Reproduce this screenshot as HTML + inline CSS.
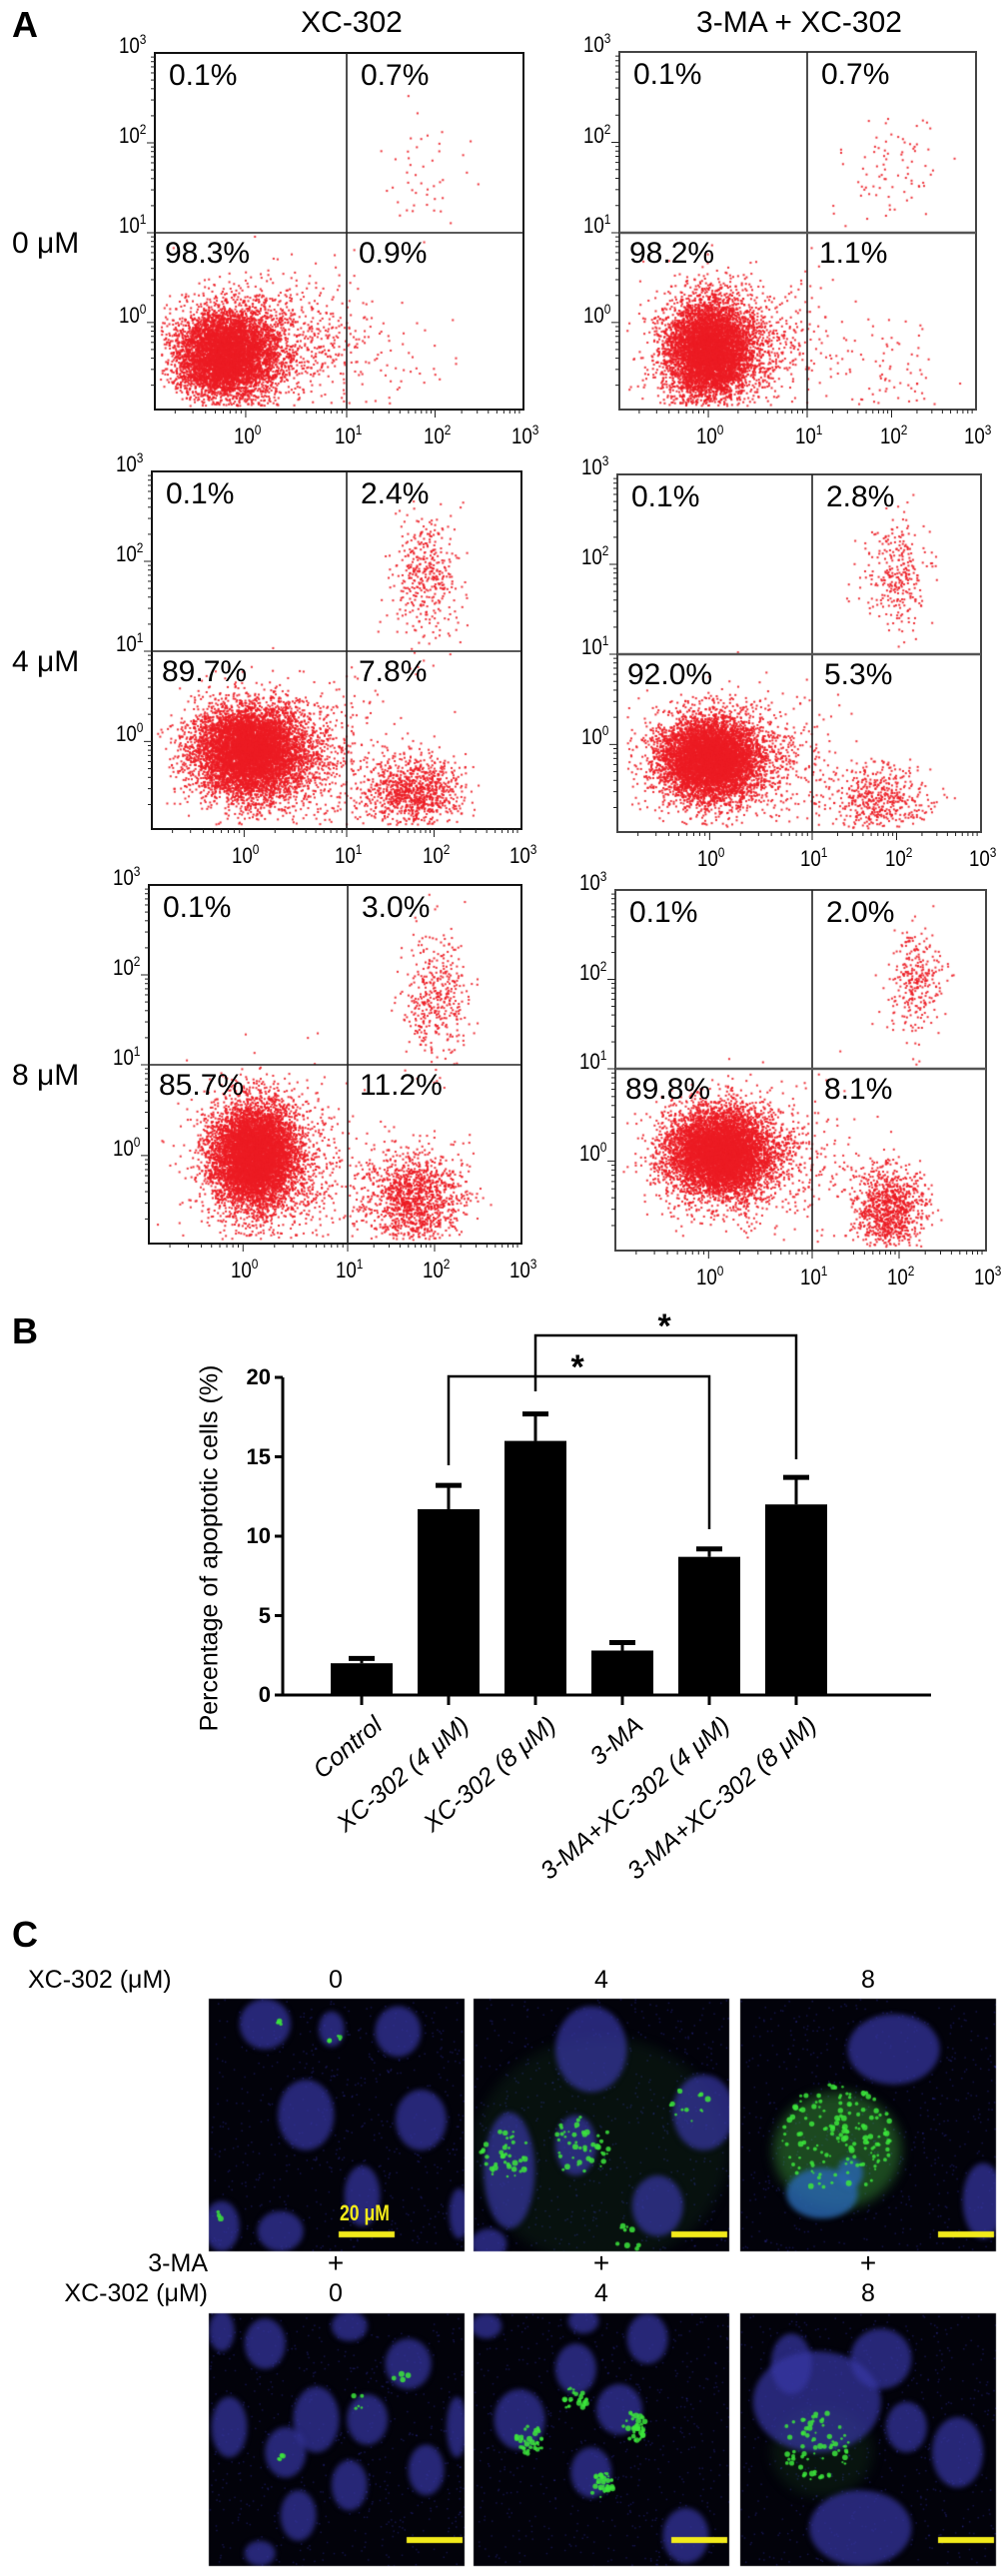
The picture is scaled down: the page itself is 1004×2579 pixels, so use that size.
<!DOCTYPE html>
<html><head><meta charset="utf-8"><style>
body{margin:0;background:#fff;}
#wrap{position:relative;width:1004px;height:2579px;overflow:hidden;font-family:"Liberation Sans",sans-serif;}
.t{position:absolute;white-space:nowrap;color:#000;}
canvas,svg{position:absolute;left:0;top:0;}
</style></head><body>
<div id="wrap">
<canvas id="cv" width="1004" height="2579"></canvas>
<svg id="sv" width="1004" height="2579"></svg>
</div>
<script>
// ---------- Panel A data ----------
const rowLabels=["0 μM","4 μM","8 μM"];
const colHeaders=["XC-302","3-MA + XC-302"];
const quadPct=[["0.1%","0.7%","98.3%","0.9%"],["0.1%","0.7%","98.2%","1.1%"],
 ["0.1%","2.4%","89.7%","7.8%"],["0.1%","2.8%","92.0%","5.3%"],
 ["0.1%","3.0%","85.7%","11.2%"],["0.1%","2.0%","89.8%","8.1%"]];
// clusters per panel: [logX, logY, sdX, sdY, count]
const clusters=[
 [[-0.2,-0.35,0.25,0.25,6000],[0.3,-0.2,0.45,0.35,900],[1.7,-0.5,0.3,0.3,40],[1.9,1.6,0.25,0.35,45]],
 [[0.0,-0.3,0.22,0.28,6000],[0.3,-0.2,0.4,0.35,800],[1.9,-0.5,0.35,0.3,80],[2.0,1.7,0.3,0.3,80]],
 [[0.05,-0.1,0.27,0.25,7000],[0.4,-0.2,0.45,0.4,900],[1.75,-0.55,0.28,0.2,1000],[1.9,1.8,0.2,0.35,400]],
 [[0.0,-0.15,0.25,0.23,6500],[0.3,-0.2,0.45,0.35,700],[1.8,-0.6,0.3,0.2,500],[2.0,1.9,0.2,0.3,300]],
 [[0.1,0.0,0.2,0.28,7000],[0.3,-0.1,0.4,0.45,900],[1.75,-0.45,0.28,0.26,1300],[2.0,1.75,0.18,0.35,400]],
 [[0.1,0.1,0.25,0.23,7000],[0.4,0.0,0.45,0.35,700],[1.85,-0.5,0.2,0.23,1000],[2.2,2.0,0.15,0.3,300]]];
// ---------- Panel B data ----------
const barCats=["Control","XC-302 (4 μM)","XC-302 (8 μM)","3-MA","3-MA+XC-302 (4 μM)","3-MA+XC-302 (8 μM)"];
const barVals=[2.0,11.7,16.0,2.8,8.7,12.0];
const barErr=[0.3,1.5,1.7,0.5,0.5,1.7];
const yTicks=[0,5,10,15,20];

const S=document.getElementById('sv'),C=document.getElementById('cv').getContext('2d'),W=document.getElementById('wrap');
const NS='http://www.w3.org/2000/svg';
function sv(tag,at,name){const e=document.createElementNS(NS,tag);for(const k in at)e.setAttribute(k,at[k]);
 
 
 S.appendChild(e);return e;}
function txt(s,x,y,size,opt,name){const d=document.createElement('div');d.className='t';d.textContent=s;
 d.style.left=x+'px';d.style.top=y+'px';d.style.fontSize=size+'px';if(opt)Object.assign(d.style,opt);
 
 
 W.appendChild(d);return d;}
let seed=12345;function rnd(){seed|=0;seed=seed+0x6D2B79F5|0;let t=Math.imul(seed^seed>>>15,1|seed);t=t+Math.imul(t^t>>>7,61|t)^t;return((t^t>>>14)>>>0)/4294967296;}
function gau(){let u=rnd()||1e-9,v=rnd();return Math.sqrt(-2*Math.log(u))*Math.cos(2*Math.PI*v);}

txt("A",12,4,36,{fontWeight:'bold'},"panel-a-label");
txt(colHeaders[0],352,6,30,{transform:'translateX(-50%)'},"col-header-xc302");
txt(colHeaders[1],800,6,30,{transform:'translateX(-50%)'},"col-header-3ma-xc302");
const boxes=[[155,53,524,410,347,233],[620,52,977,410,808,233],[152,472,522,830,347,652],[618,475,982,833,813,655],[149,886,522,1245,348,1066],[616,891,987,1252,813,1070]];
function xMap(b,l){return l<=1? b[0]+(l+0.9)/1.9*(b[4]-b[0]) : b[4]+(l-1)/2*(b[2]-b[4]);}
function yMap(b,l){return l<=1? b[3]-(l+0.97)/1.97*(b[3]-b[5]) : b[5]-(l-1)/2*(b[5]-b[1]);}
function sup(e,x,y,name){const d=txt("10",x,y,22,{transform:'scaleX(0.85)',transformOrigin:'0 0'},name);const s=document.createElement('sup');s.textContent=e;s.style.fontSize='14px';s.style.verticalAlign='9px';d.appendChild(s);return d;}
boxes.forEach((b,i)=>{
 const r=Math.floor(i/2);
 if(i%2==0) txt(rowLabels[r],12,b[5]-6,30,{},"row-label-"+r);
 sv('rect',{x:b[0],y:b[1],width:b[2]-b[0],height:b[3]-b[1],fill:'none',stroke:i%2?'#444':'#111','stroke-width':2},"flow-plot-frame-"+i);
 sv('line',{x1:b[4],y1:b[1],x2:b[4],y2:b[3],stroke:'#222','stroke-width':1.6},"quadrant-vline-"+i);
 sv('line',{x1:b[0],y1:b[5],x2:b[2],y2:b[5],stroke:i%2?'#555':'#222','stroke-width':i%2?2.5:1.6},"quadrant-hline-"+i);
 for(let d=-1;d<3;d++)for(let m=1;m<10;m++){const l=d+Math.log10(m);if(l<-0.9||l>3)continue;
  const x=xMap(b,l),len=m==1?8:4;sv('line',{x1:x,y1:b[3],x2:x,y2:b[3]+len,stroke:'#222','stroke-width':1},"x-tick");
  if(l>=-0.97){const y=yMap(b,l);sv('line',{x1:b[0],y1:y,x2:b[0]-len,y2:y,stroke:'#222','stroke-width':1},"y-tick");}}
 for(let e=0;e<=3;e++){sup(e,xMap(b,e)-12,b[3]+12,"x-tick-label");sup(e,b[0]-36,yMap(b,e)-22,"y-tick-label");}
 const p=quadPct[i];
 txt(p[0],b[0]+14,b[1]+6,30,{},"pct-upper-left");
 txt(p[1],b[4]+14,b[1]+6,30,{},"pct-upper-right");
 txt(p[2],b[0]+10,b[5]+4,30,{},"pct-lower-left");
 txt(p[3],b[4]+12,b[5]+4,30,{},"pct-lower-right");
 C.fillStyle='rgba(236,28,36,0.9)';
 clusters[i].forEach(c=>{for(let k=0;k<c[4];k++){const lx=c[0]+gau()*c[2],ly=c[1]+gau()*c[3];
  if(lx<-0.85||lx>2.95||ly<-0.92||ly>2.95)continue;C.fillRect(xMap(b,lx),yMap(b,ly),2,2);}});
});

// ---------- Panel B ----------
txt("B",12,1312,36,{fontWeight:'bold'},"panel-b-label");
const ax={x0:283,x1:932,y0:1697,px:15.9};
function yv(v){return ax.y0-v*ax.px;}
function bx(i){return 362+i*87;}
sv('line',{x1:ax.x0,y1:yv(20),x2:ax.x0,y2:ax.y0,stroke:'#000','stroke-width':3},"b-y-axis");
sv('line',{x1:ax.x0,y1:ax.y0,x2:ax.x1,y2:ax.y0,stroke:'#000','stroke-width':3},"b-x-axis");
yTicks.forEach(t=>{sv('line',{x1:ax.x0-8,y1:yv(t),x2:ax.x0,y2:yv(t),stroke:'#000','stroke-width':3},"b-y-tick");
 txt(String(t),ax.x0-12,yv(t)-13,22,{fontWeight:'bold',transform:'translateX(-100%)'},"b-y-tick-label");});
txt("Percentage of apoptotic cells (%)",210,1550,25,{transform:'translate(-50%,-50%) rotate(-90deg)'},"b-y-axis-title");
barCats.forEach((c,i)=>{const x=bx(i);
 sv('rect',{x:x-31,y:yv(barVals[i]),width:62,height:ax.y0-yv(barVals[i]),fill:'#000'},"bar-"+i);
 sv('line',{x1:x,y1:yv(barVals[i]),x2:x,y2:yv(barVals[i]+barErr[i]),stroke:'#000','stroke-width':3},"error-bar-"+i);
 sv('line',{x1:x-13,y1:yv(barVals[i]+barErr[i]),x2:x+13,y2:yv(barVals[i]+barErr[i]),stroke:'#000','stroke-width':5},"error-cap-"+i);
 sv('line',{x1:x,y1:ax.y0,x2:x,y2:ax.y0+10,stroke:'#000','stroke-width':3},"b-x-tick");
 txt(c,x+8,ax.y0+16,25,{fontStyle:'italic',transform:'translateX(-100%) rotate(-40deg)',transformOrigin:'100% 0'},"b-x-label-"+i);
});
function bracket(i1,i2,top,b1,b2,name){sv('polyline',{points:`${bx(i1)},${b1} ${bx(i1)},${top} ${bx(i2)},${top} ${bx(i2)},${b2}`,fill:'none',stroke:'#000','stroke-width':2.5},name);
 txt("*",(bx(i1)+bx(i2))/2-8,top-28,34,{fontWeight:'bold'},name+"-star");}
bracket(2,5,1337,1393,1461,"sig-bracket-8um");
bracket(1,4,1378,1467,1531,"sig-bracket-4um");

// ---------- Panel C ----------
txt("C",12,1916,36,{fontWeight:'bold'},"panel-c-label");
txt("XC-302 (μM)",28,1968,25,{},"c-row1-label");
txt("3-MA",208,2252,25,{transform:'translateX(-100%)'},"c-3ma-label");
txt("XC-302 (μM)",208,2282,25,{transform:'translateX(-100%)'},"c-row2-label");
const colX=[336,602,869],conc=["0","4","8"];
colX.forEach((x,i)=>{txt(conc[i],x,1968,25,{transform:'translateX(-50%)'},"c-top-conc-"+i);
 txt("+",x,2250,28,{transform:'translateX(-50%)'},"c-plus-"+i);
 txt(conc[i],x,2282,25,{transform:'translateX(-50%)'},"c-bottom-conc-"+i);});
const imgs=[
 {x:209,y:2001,n:[[.22,.1,.1,.1],[.48,.12,.05,.07],[.74,.13,.09,.1],[.38,.46,.11,.14],[.83,.48,.1,.12],[.6,.78,.07,.12],[.28,.92,.09,.08],[.05,.9,.07,.1],[.98,.85,.04,.1]],g:[[.28,.1,.02,4],[.5,.17,.03,5],[.05,.85,.03,3]],cell:null},
 {x:474,y:2001,n:[[.46,.2,.14,.17],[.9,.45,.12,.15],[.4,.58,.08,.12],[.14,.68,.1,.23],[.72,.82,.1,.12],[.06,.97,.07,.06]],g:[[.12,.62,.1,40],[.42,.58,.12,45],[.85,.42,.08,14],[.6,.95,.06,10]],cell:[.5,.6,.5,.45,0.1]},
 {x:741,y:2001,n:[[.6,.2,.18,.14],[.95,.8,.08,.15]],g:[[.38,.55,.22,150]],cell:[.38,.6,.25,.23,0.45],inner:[[.32,.77,.14,.1],[.43,.69,.05,.06]]},
 {x:209,y:2316,n:[[.22,.12,.08,.1],[.55,.05,.07,.06],[.05,.07,.05,.08],[.78,.2,.09,.1],[.42,.42,.09,.13],[.08,.45,.07,.12],[.3,.55,.08,.1],[.55,.68,.07,.1],[.85,.62,.07,.1],[.35,.8,.07,.1],[.97,.45,.04,.12],[.62,.42,.08,.1],[.2,.95,.06,.05]],g:[[.28,.56,.02,4],[.58,.35,.03,5],[.75,.25,.03,4]],cell:null},
 {x:474,y:2316,n:[[.4,.22,.08,.1],[.18,.42,.1,.12],[.57,.38,.09,.1],[.68,.1,.08,.1],[.46,.63,.08,.1],[.83,.88,.09,.11],[.05,.05,.06,.05],[.43,.03,.06,.05]],g:[[.22,.5,.06,35],[.4,.34,.05,25],[.62,.45,.06,35],[.5,.68,.05,30]],cell:null},
 {x:741,y:2316,n:[[.2,.2,.08,.12],[.55,.18,.12,.12],[.65,.45,.08,.1],[.85,.55,.1,.14],[.47,.85,.2,.15],[.3,.35,.25,.2]],g:[[.3,.52,.14,70]],cell:[.32,.55,.2,.18,0.12]}];
imgs.forEach((im,k)=>{
 const w=256,h=253;
 sv('rect',{x:im.x,y:im.y,width:w,height:h,fill:'none',stroke:'none'},"micrograph-"+k);
 C.save();C.beginPath();C.rect(im.x,im.y,w,h);C.clip();
 C.fillStyle='#02020a';C.fillRect(im.x,im.y,w,h);
 C.fillStyle='rgba(60,60,200,0.35)';
 for(let q=0;q<600;q++)C.fillRect(im.x+rnd()*w,im.y+rnd()*h,1.5,1.5);
 if(im.cell){C.filter='blur(6px)';C.fillStyle=`rgba(60,160,60,${im.cell[4]})`;C.beginPath();
  C.ellipse(im.x+im.cell[0]*w,im.y+im.cell[1]*h,im.cell[2]*w,im.cell[3]*h,0,0,7);C.fill();}
 C.filter='blur(2.5px)';
 im.n.forEach(n=>{C.fillStyle='rgba(55,55,165,0.7)';C.beginPath();C.ellipse(im.x+n[0]*w,im.y+n[1]*h,n[2]*w,n[3]*h,0,0,7);C.fill();});
 if(im.inner)im.inner.forEach(n=>{C.fillStyle='rgba(40,100,170,0.85)';C.beginPath();C.ellipse(im.x+n[0]*w,im.y+n[1]*h,n[2]*w,n[3]*h,0,0,7);C.fill();});
 C.filter='blur(0.6px)';
 im.g.forEach(g=>{for(let q=0;q<g[3];q++){const a=rnd()*7,r=Math.sqrt(rnd())*g[2];
  C.fillStyle='rgba(60,230,60,0.85)';C.beginPath();C.arc(im.x+(g[0]+Math.cos(a)*r)*w,im.y+(g[1]+Math.sin(a)*r)*h,1+rnd()*2,0,7);C.fill();}});
 C.filter='none';
 C.fillStyle='#f2ea1a';
 const sbx=k==0?im.x+130:im.x+w-58, sby=im.y+h-(k<3?20:29);
 C.fillRect(sbx,sby,56,6);
 C.restore();
});
txt("20 μM",340,2203,22,{color:'#f2ea1a',fontWeight:'bold',transform:'scaleX(0.8)',transformOrigin:'0 0'},"scale-bar-label");
</script>
</body></html>
